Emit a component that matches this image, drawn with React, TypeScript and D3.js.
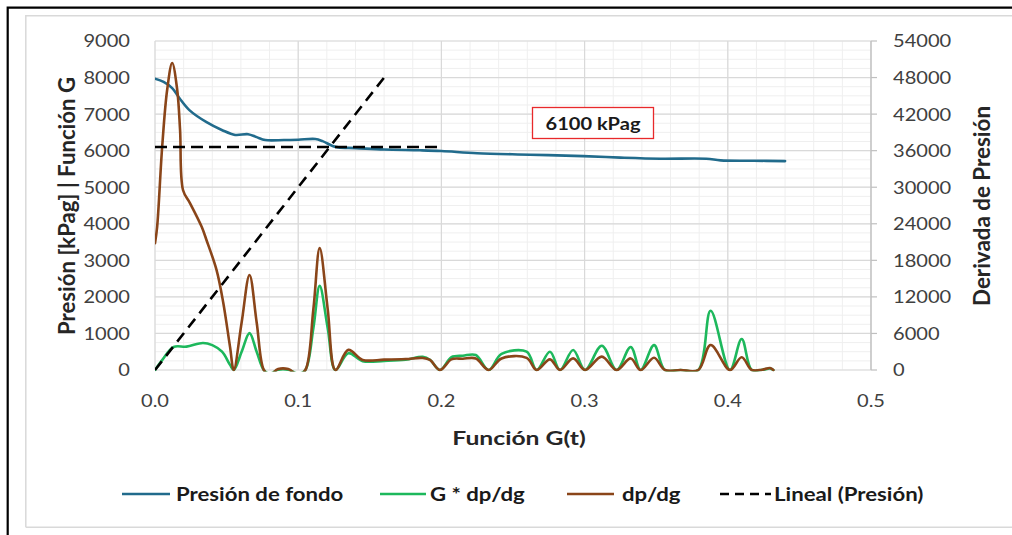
import React from 'react';
import * as d3 from 'd3';

// Presión de fondo (left axis, kPag)
const presionX = [0, 0.006, 0.012, 0.017, 0.024, 0.036, 0.047, 0.056, 0.065, 0.071, 0.077, 0.09, 0.1, 0.112, 0.117, 0.124, 0.128, 0.14, 0.16, 0.185, 0.2, 0.225, 0.262, 0.299, 0.325, 0.353, 0.385, 0.395, 0.418, 0.44];
const presionY = [7970, 7880, 7710, 7440, 7110, 6780, 6560, 6430, 6450, 6370, 6290, 6290, 6300, 6320, 6260, 6130, 6090, 6070, 6030, 6010, 5990, 5930, 5890, 5850, 5810, 5780, 5780, 5735, 5725, 5715];

// G * dp/dg (left axis)
const gdpX = [0, 0.005, 0.013, 0.022, 0.0335, 0.04, 0.0468, 0.0524, 0.055, 0.0605, 0.066, 0.071, 0.076, 0.08, 0.086, 0.093, 0.1, 0.105, 0.1106, 0.115, 0.1206, 0.126, 0.135, 0.145, 0.16, 0.175, 0.187, 0.192, 0.199, 0.207, 0.215, 0.224, 0.233, 0.242, 0.2595, 0.2665, 0.2758, 0.2828, 0.292, 0.3003, 0.312, 0.3224, 0.3322, 0.3391, 0.3485, 0.3561, 0.367, 0.3794, 0.388, 0.4015, 0.4097, 0.4167, 0.424, 0.4295, 0.4318];
const gdpY = [0, 270, 630, 640, 740, 680, 500, 140, 0, 500, 1010, 500, 0, -100, 5, 5, -100, 0, 1150, 2300, 1150, 0, 460, 240, 250, 280, 360, 280, 0, 350, 390, 410, 0, 440, 500, 0, 500, 0, 547, 0, 665, 0, 630, 0, 680, 0, 0, 0, 1620, 0, 850, 0, 5, 40, 0];

// dp/dg (right axis)
const dpdgX = [0, 0.0015, 0.005, 0.0085, 0.012, 0.0155, 0.0175, 0.0196, 0.0244, 0.0326, 0.036, 0.043, 0.0477, 0.0524, 0.055, 0.0605, 0.066, 0.071, 0.076, 0.08, 0.086, 0.093, 0.1, 0.105, 0.1106, 0.115, 0.1206, 0.126, 0.135, 0.145, 0.16, 0.175, 0.187, 0.192, 0.199, 0.207, 0.215, 0.224, 0.233, 0.242, 0.2595, 0.2665, 0.2758, 0.2828, 0.292, 0.3003, 0.312, 0.3224, 0.3322, 0.3391, 0.3485, 0.3561, 0.367, 0.3794, 0.388, 0.4015, 0.4097, 0.4167, 0.424, 0.4295, 0.4318];
const dpdgY = [20800, 23500, 36600, 46000, 50400, 46000, 39400, 29500, 27400, 23500, 21300, 16400, 11000, 3800, 0, 7800, 15600, 7800, 0, -800, 150, 150, -800, 0, 10000, 20000, 10000, 0, 3300, 1650, 1700, 1800, 1970, 1650, 0, 1750, 1850, 1900, 0, 1900, 2000, 0, 1750, 0, 1900, 0, 2200, 0, 1900, 0, 2000, 0, 0, 0, 4100, 0, 2100, 0, 50, 330, 0];

// Lineal (Presión) and the 6100 kPag reference
const linealX = [0, 0.16];
const linealY = [0, 8000];
const refX = [0, 0.197];
const refY = [6100, 6100];

const xTickValues = [0, 0.1, 0.2, 0.3, 0.4, 0.5];
const leftTickValues = [0, 1000, 2000, 3000, 4000, 5000, 6000, 7000, 8000, 9000];
const rightTickValues = [0, 6000, 12000, 18000, 24000, 30000, 36000, 42000, 48000, 54000];
const legendNames = ['Presión de fondo', 'G * dp/dg', 'dp/dg', 'Lineal (Presión)'];
const annotation = '6100 kPag';

const W = 1012, H = 535;
const M = { left: 155, right: 871, top: 41, bottom: 370 };
const FONT = "Lato, 'Open Sans', sans-serif";
const SX = 1.18;

const BLUE = '#216b8c';
const GREEN = '#1db85c';
const BROWN = '#8a4519';

function T({ x, y, anchor = 'middle', size = 17, bold = false, rotate = false, fill = '#404040', len, children }: any) {
  const tr = rotate
    ? `translate(${x},${y}) rotate(-90) scale(1,${SX})`
    : `translate(${x},${y}) scale(${SX},1)`;
  return (
    <text transform={tr} textAnchor={anchor} dominantBaseline="central"
      fontFamily={FONT} fontSize={size} fontWeight={bold ? 700 : 400} fill={fill}
      textLength={len} lengthAdjust={len ? 'spacingAndGlyphs' : undefined}>
      {children}
    </text>
  );
}

export default function App() {
  const x = d3.scaleLinear().domain([0, 0.5]).range([M.left, M.right]);
  const yL = d3.scaleLinear().domain([0, 9000]).range([M.bottom, M.top]);
  const yR = d3.scaleLinear().domain([0, 54000]).range([M.bottom, M.top]);

  const zip = (a: number[], b: number[]) => a.map((v, i) => [v, b[i]] as [number, number]);
  const lineL = d3.line<[number, number]>().x(d => x(d[0])).y(d => yL(d[1])).curve(d3.curveCatmullRom.alpha(0.5));
  const lineR = d3.line<[number, number]>().x(d => x(d[0])).y(d => yR(d[1])).curve(d3.curveCatmullRom.alpha(0.5));
  const straight = d3.line<[number, number]>().x(d => x(d[0])).y(d => yL(d[1]));

  const minorX = d3.range(0, 0.5001, 0.02);
  const minorY = d3.range(0, 9001, 250);

  // legend layout: swatch start, swatch end, text start
  const legendSwatch = [[122, 170], [380, 426], [567, 614], [720, 771]];
  const legendTextX = [176, 430, 622, 774];
  const legendColors = [BLUE, GREEN, BROWN, '#000'];
  const ly = 494;

  return (
    <svg width={W} height={H} style={{ position: 'absolute', left: 0, top: 0, background: '#fff' }}>
      <rect x={0} y={0} width={W} height={H} fill="#fff" />
      <path d={`M7.7,${H + 5}V7.7H${W + 5}`} fill="none" stroke="#000" strokeWidth={2.2} />
      <path d={`M25.8,527.2V15.8H${W + 5}M25.8,527.2H${W + 5}`} fill="none" stroke="#d9d9d9" strokeWidth={1.5} />

      <clipPath id="plot">
        <rect x={M.left} y={M.top - 2} width={M.right - M.left} height={M.bottom - M.top + 3.5} />
      </clipPath>

      {/* grid */}
      {minorX.map((v, i) => (
        <line key={'mx' + i} x1={x(v)} x2={x(v)} y1={M.top} y2={M.bottom} stroke="#efefef" strokeWidth={1} />
      ))}
      {minorY.map((v, i) => (
        <line key={'my' + i} x1={M.left} x2={M.right} y1={yL(v)} y2={yL(v)} stroke="#efefef" strokeWidth={1} />
      ))}
      {xTickValues.map((v, i) => (
        <line key={'gx' + i} x1={x(v)} x2={x(v)} y1={M.top} y2={M.bottom} stroke="#d9d9d9" strokeWidth={1.2} />
      ))}
      {leftTickValues.map((v, i) => (
        <line key={'gy' + i} x1={M.left} x2={M.right} y1={yL(v)} y2={yL(v)} stroke="#d9d9d9" strokeWidth={1.2} />
      ))}
      {/* right axis */}
      <line x1={M.right} x2={M.right} y1={M.top} y2={M.bottom} stroke="#bfbfbf" strokeWidth={1.2} />
      {rightTickValues.map((v, i) => (
        <line key={'rt' + i} x1={M.right} x2={M.right + 6} y1={yR(v)} y2={yR(v)} stroke="#bfbfbf" strokeWidth={1.2} />
      ))}

      {/* series */}
      <g clipPath="url(#plot)" fill="none" strokeLinejoin="round" strokeLinecap="round">
        <path d={lineL(zip(presionX, presionY)) || ''} stroke={BLUE} strokeWidth={2.6} />
        <path d={lineL(zip(gdpX, gdpY)) || ''} stroke={GREEN} strokeWidth={2.6} />
        <path d={lineR(zip(dpdgX, dpdgY)) || ''} stroke={BROWN} strokeWidth={2.6} />
        <path d={straight(zip(refX, refY)) || ''} stroke="#000" strokeWidth={2.6} strokeDasharray="12,6" strokeLinecap="butt" />
        <path d={straight(zip(linealX, linealY)) || ''} stroke="#000" strokeWidth={2.6} strokeDasharray="11,7" strokeLinecap="butt" />
      </g>

      {/* tick labels */}
      {leftTickValues.map((v, i) => (
        <T key={'lt' + i} x={130} y={yL(v)} anchor="end">{String(v)}</T>
      ))}
      {rightTickValues.map((v, i) => (
        <T key={'rl' + i} x={893} y={yR(v)} anchor="start">{String(v)}</T>
      ))}
      {xTickValues.map((v, i) => (
        <T key={'xl' + i} x={x(v)} y={401}>{d3.format('.1f')(v)}</T>
      ))}

      {/* axis titles */}
      <T x={519} y={437} bold size={19} fill="#262626" len={113}>Función G(t)</T>
      <T x={66} y={206} bold rotate size={19} fill="#262626" len={258}>Presión [kPag] | Función G</T>
      <T x={981} y={206} bold rotate size={19} fill="#262626" len={200}>Derivada de Presión</T>

      {/* annotation */}
      <rect x={532.5} y={107.5} width={121} height={31} fill="#fff" stroke="#e8292b" strokeWidth={1.3} />
      <T x={593} y={124} bold fill="#1a1a1a">{annotation}</T>

      {/* legend */}
      {legendNames.map((name, i) => (
        <g key={'lg' + i}>
          <line x1={legendSwatch[i][0]} x2={legendSwatch[i][1]} y1={ly} y2={ly}
            stroke={legendColors[i]} strokeWidth={2.6}
            strokeDasharray={i === 3 ? '9,6' : undefined} />
          <T x={legendTextX[i]} y={ly} anchor="start" bold size={18.8} fill="#1a1a1a">{name}</T>
        </g>
      ))}
    </svg>
  );
}
